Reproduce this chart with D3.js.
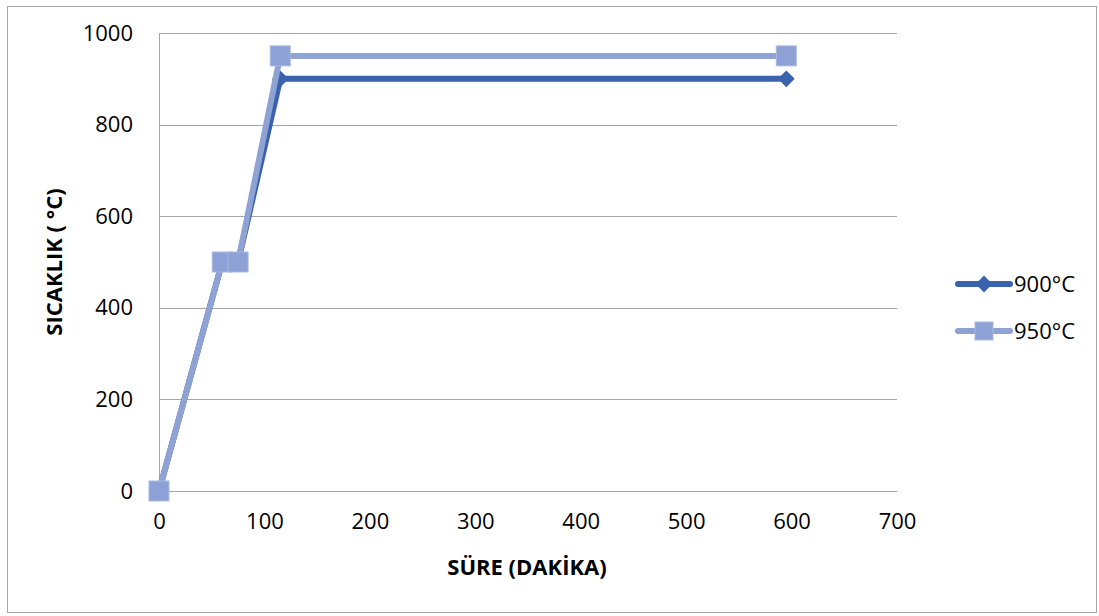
<!DOCTYPE html>
<html>
<head>
<meta charset="utf-8">
<script src="https://cdn.jsdelivr.net/npm/d3@7"></script>
<style>
  body { margin: 0; background: #fff; }
  text { font-family: "Open Sans", sans-serif; fill: #000; }
</style>
</head>
<body>
<svg id="chart" width="1099" height="616"></svg>
<script>
// data
var seriesNames = ["900°C", "950°C"];
var timeMin = [0, 60, 75, 115, 595];
var temp900 = [0, 500, 500, 900, 900];
var temp950 = [0, 500, 500, 950, 950];
var xTicks = [0, 100, 200, 300, 400, 500, 600, 700];
var yTicks = [0, 200, 400, 600, 800, 1000];

var svg = d3.select("#chart");
// plot area bounds ("top" is taken on window, so use other names)
var plotLeft = 159, plotRight = 897, plotTop = 33, plotBottom = 491;
var FontSize = "22px";

var x = d3.scaleLinear().domain([0, 700]).range([plotLeft, plotRight]);
var y = d3.scaleLinear().domain([0, 1000]).range([plotBottom, plotTop]);

// outer frame
svg.append("rect")
  .attr("x", 7.5).attr("y", 6.5).attr("width", 1089).attr("height", 606)
  .style("fill", "none").style("stroke", "#a6a6a6").style("stroke-width", 1);

// horizontal gridlines
svg.append("g").selectAll("line")
  .data(yTicks)
  .enter()
  .append("line")
    .attr("x1", plotLeft).attr("x2", plotRight)
    .attr("y1", function(d) { return Math.round(y(d)) + 0.5; })
    .attr("y2", function(d) { return Math.round(y(d)) + 0.5; })
    .style("stroke", "#a6a6a6").style("stroke-width", 1);

// y axis line
svg.append("line")
  .attr("x1", plotLeft + 0.5).attr("x2", plotLeft + 0.5)
  .attr("y1", plotTop).attr("y2", plotBottom)
  .style("stroke", "#a6a6a6");

// y axis tick labels
var yAxis = d3.axisLeft(y).tickValues(yTicks).tickFormat(d3.format("d")).tickSize(0).tickPadding(26);
var gy = svg.append("g").attr("transform", "translate(" + plotLeft + ",0)").call(yAxis);
gy.select(".domain").remove();
gy.selectAll("text").style("font-size", FontSize).style("font-family", "\"Open Sans\", sans-serif");

// x axis tick labels
var xAxis = d3.axisBottom(x).tickValues(xTicks).tickFormat(d3.format("d")).tickSize(0).tickPadding(22);
var gx = svg.append("g").attr("transform", "translate(0," + plotBottom + ")").call(xAxis);
gx.select(".domain").remove();
gx.selectAll("text").style("font-size", FontSize).style("font-family", "\"Open Sans\", sans-serif");

// axis titles
svg.append("text")
  .attr("x", 527).attr("y", 575)
  .attr("text-anchor", "middle")
  .style("font-size", FontSize).style("font-weight", "bold")
  .text("SÜRE (DAKİKA)");

svg.append("text")
  .attr("transform", "translate(62,262) rotate(-90)")
  .attr("text-anchor", "middle")
  .style("font-size", FontSize).style("font-weight", "bold")
  .text("SICAKLIK ( °C)");

var colors = ["#3b62ad", "#8fa2d4"];
var markerFill = "#8ea1d6", markerEdge = "#aab9e2";
var series = [temp900, temp950];

var line = d3.line()
  .x(function(d) { return x(d.t); })
  .y(function(d) { return y(d.v); });

function points(vals) {
  return vals.map(function(v, i) { return { t: timeMin[i], v: v }; });
}

var diamond = d3.symbol().type(d3.symbolDiamond2).size(180);

// draw 900 first, then 950 on top
series.forEach(function(vals, si) {
  var pts = points(vals);
  svg.append("path")
    .datum(pts)
    .attr("d", line)
    .style("fill", "none")
    .style("stroke", colors[si])
    .style("stroke-width", 6)
    .style("stroke-linejoin", "round")
    .style("stroke-linecap", "round");

  if (si === 0) {
    svg.append("g").selectAll("path")
      .data(pts)
      .enter()
      .append("path")
        .attr("d", diamond)
        .attr("transform", function(d) { return "translate(" + x(d.t) + "," + y(d.v) + ")"; })
        .style("fill", colors[si]);
  } else {
    svg.append("g").selectAll("rect")
      .data(pts)
      .enter()
      .append("rect")
        .attr("x", function(d) { return x(d.t) - 10; })
        .attr("y", function(d) { return y(d.v) - 10; })
        .attr("width", 20).attr("height", 20)
        .style("fill", markerFill)
        .style("stroke", markerEdge).style("stroke-width", 1);
  }
});

// legend
var legendY = [284, 331];
seriesNames.forEach(function(name, i) {
  var g = svg.append("g").attr("transform", "translate(0," + legendY[i] + ")");
  g.append("line")
    .attr("x1", 958).attr("x2", 1010).attr("y1", 0).attr("y2", 0)
    .style("stroke", colors[i]).style("stroke-width", 6).style("stroke-linecap", "round");
  if (i === 0) {
    g.append("path").attr("d", diamond).attr("transform", "translate(984,0)").style("fill", colors[i]);
  } else {
    g.append("rect").attr("x", 975).attr("y", -9).attr("width", 18).attr("height", 18)
      .style("fill", markerFill).style("stroke", markerEdge);
  }
  g.append("text")
    .attr("x", 1014).attr("y", 0).attr("dy", "0.36em")
    .style("font-size", FontSize)
    .text(name);
});
</script>
</body>
</html>
